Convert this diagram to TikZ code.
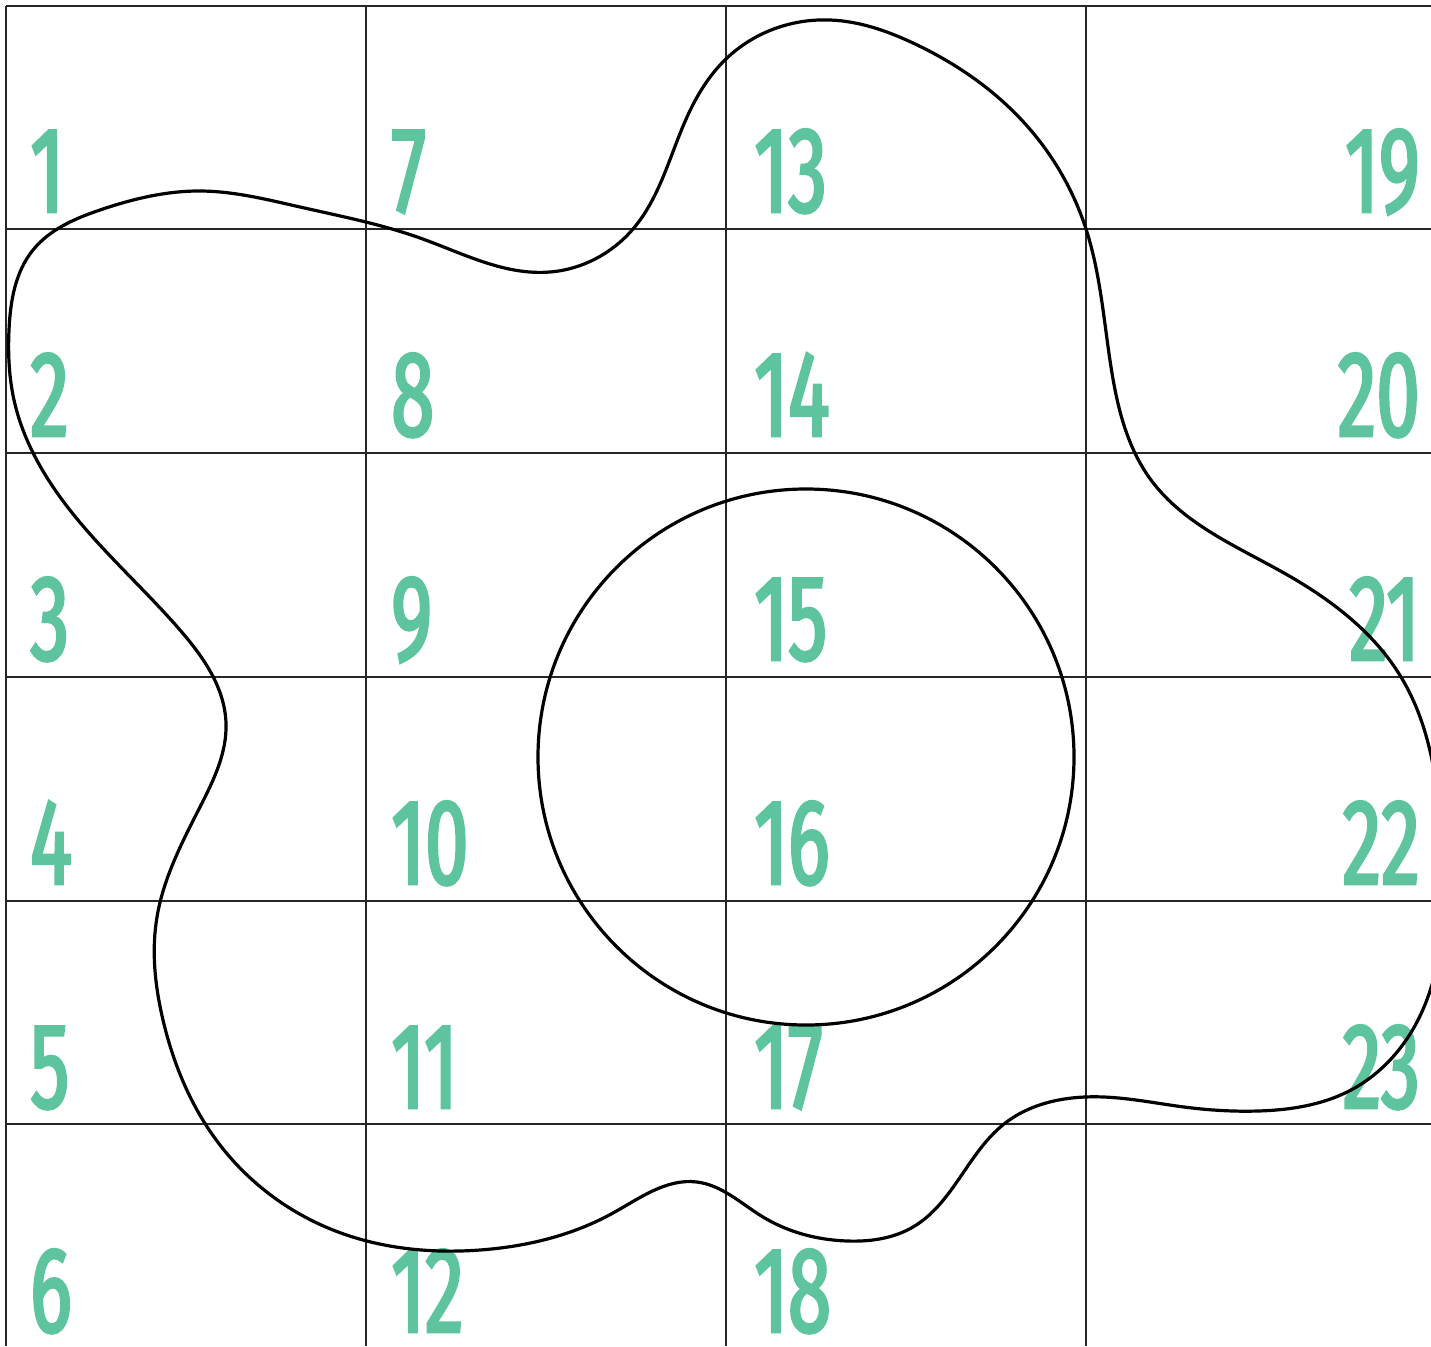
\documentclass[tikz,border=0pt]{standalone}
\usepackage{fontspec}
\usetikzlibrary{hobby}
\newfontfamily\numfont[FakeStretch=0.64,FakeBold=2.2,Numbers=Proportional]{Fira Sans}
\definecolor{numgreen}{RGB}{94,196,158}
\begin{document}
\begin{tikzpicture}[x=1pt,y=-1pt,
  gridline/.style={draw=black!85,line width=1.3pt},
  blob/.style={draw=black,line width=3.2pt},
  num/.style={inner sep=0pt,text=numgreen,font=\numfont\fontsize{122}{124}\selectfont}]
\useasboundingbox (0,0) rectangle (1431,1346);
% grid
\foreach \x in {6,366,726,1086} \draw[gridline] (\x,6) -- (\x,1346);
\foreach \y in {6,229,453,677,901,1124} \draw[gridline] (6,\y) -- (1431,\y);
% numbers
\foreach \r in {1,...,6}{
  \pgfmathtruncatemacro{\a}{\r}
  \pgfmathtruncatemacro{\b}{\r+6}
  \pgfmathtruncatemacro{\c}{\r+12}
  \pgfmathsetmacro{\yy}{212+224*(\r-1)}
  \node[num,anchor=base west] (n\a) at (30,\yy) {\a};
  \node[num,anchor=base west] (n\b) at (391,\yy) {\b};
  \node[num,anchor=base west] (n\c) at (754,\yy) {\c};
}
\foreach \r in {1,...,5}{
  \pgfmathtruncatemacro{\d}{\r+18}
  \pgfmathsetmacro{\yy}{212+224*(\r-1)}
  \node[num,anchor=base east] (n\d) at (1420,\yy) {\d};
}
% circle
\draw[blob] (806,757) circle[radius=268];
% blob outline
\draw[blob] plot[closed hobby] coordinates {
 (9,330) (33,250) (100,210) (200,191) (300,207) (420,238)
 (550,272) (633,229) (687,117) (727,58) (830,20) (913,43)
 (1028,127) (1086,229) (1111,367) (1151,480) (1284,573) (1401,677)
 (1442,850) (1418,1020) (1351,1090) (1258,1111) (1184,1107) (1104,1097)
 (1004,1124) (913,1227) (847,1241) (763,1217) (697,1182) (613,1213)
 (480,1250) (333,1230) (220,1145) (163,1020) (157,917) (200,807) (226,723)
 (180,630) (66,505) (14,400)};
\end{tikzpicture}
\end{document}
